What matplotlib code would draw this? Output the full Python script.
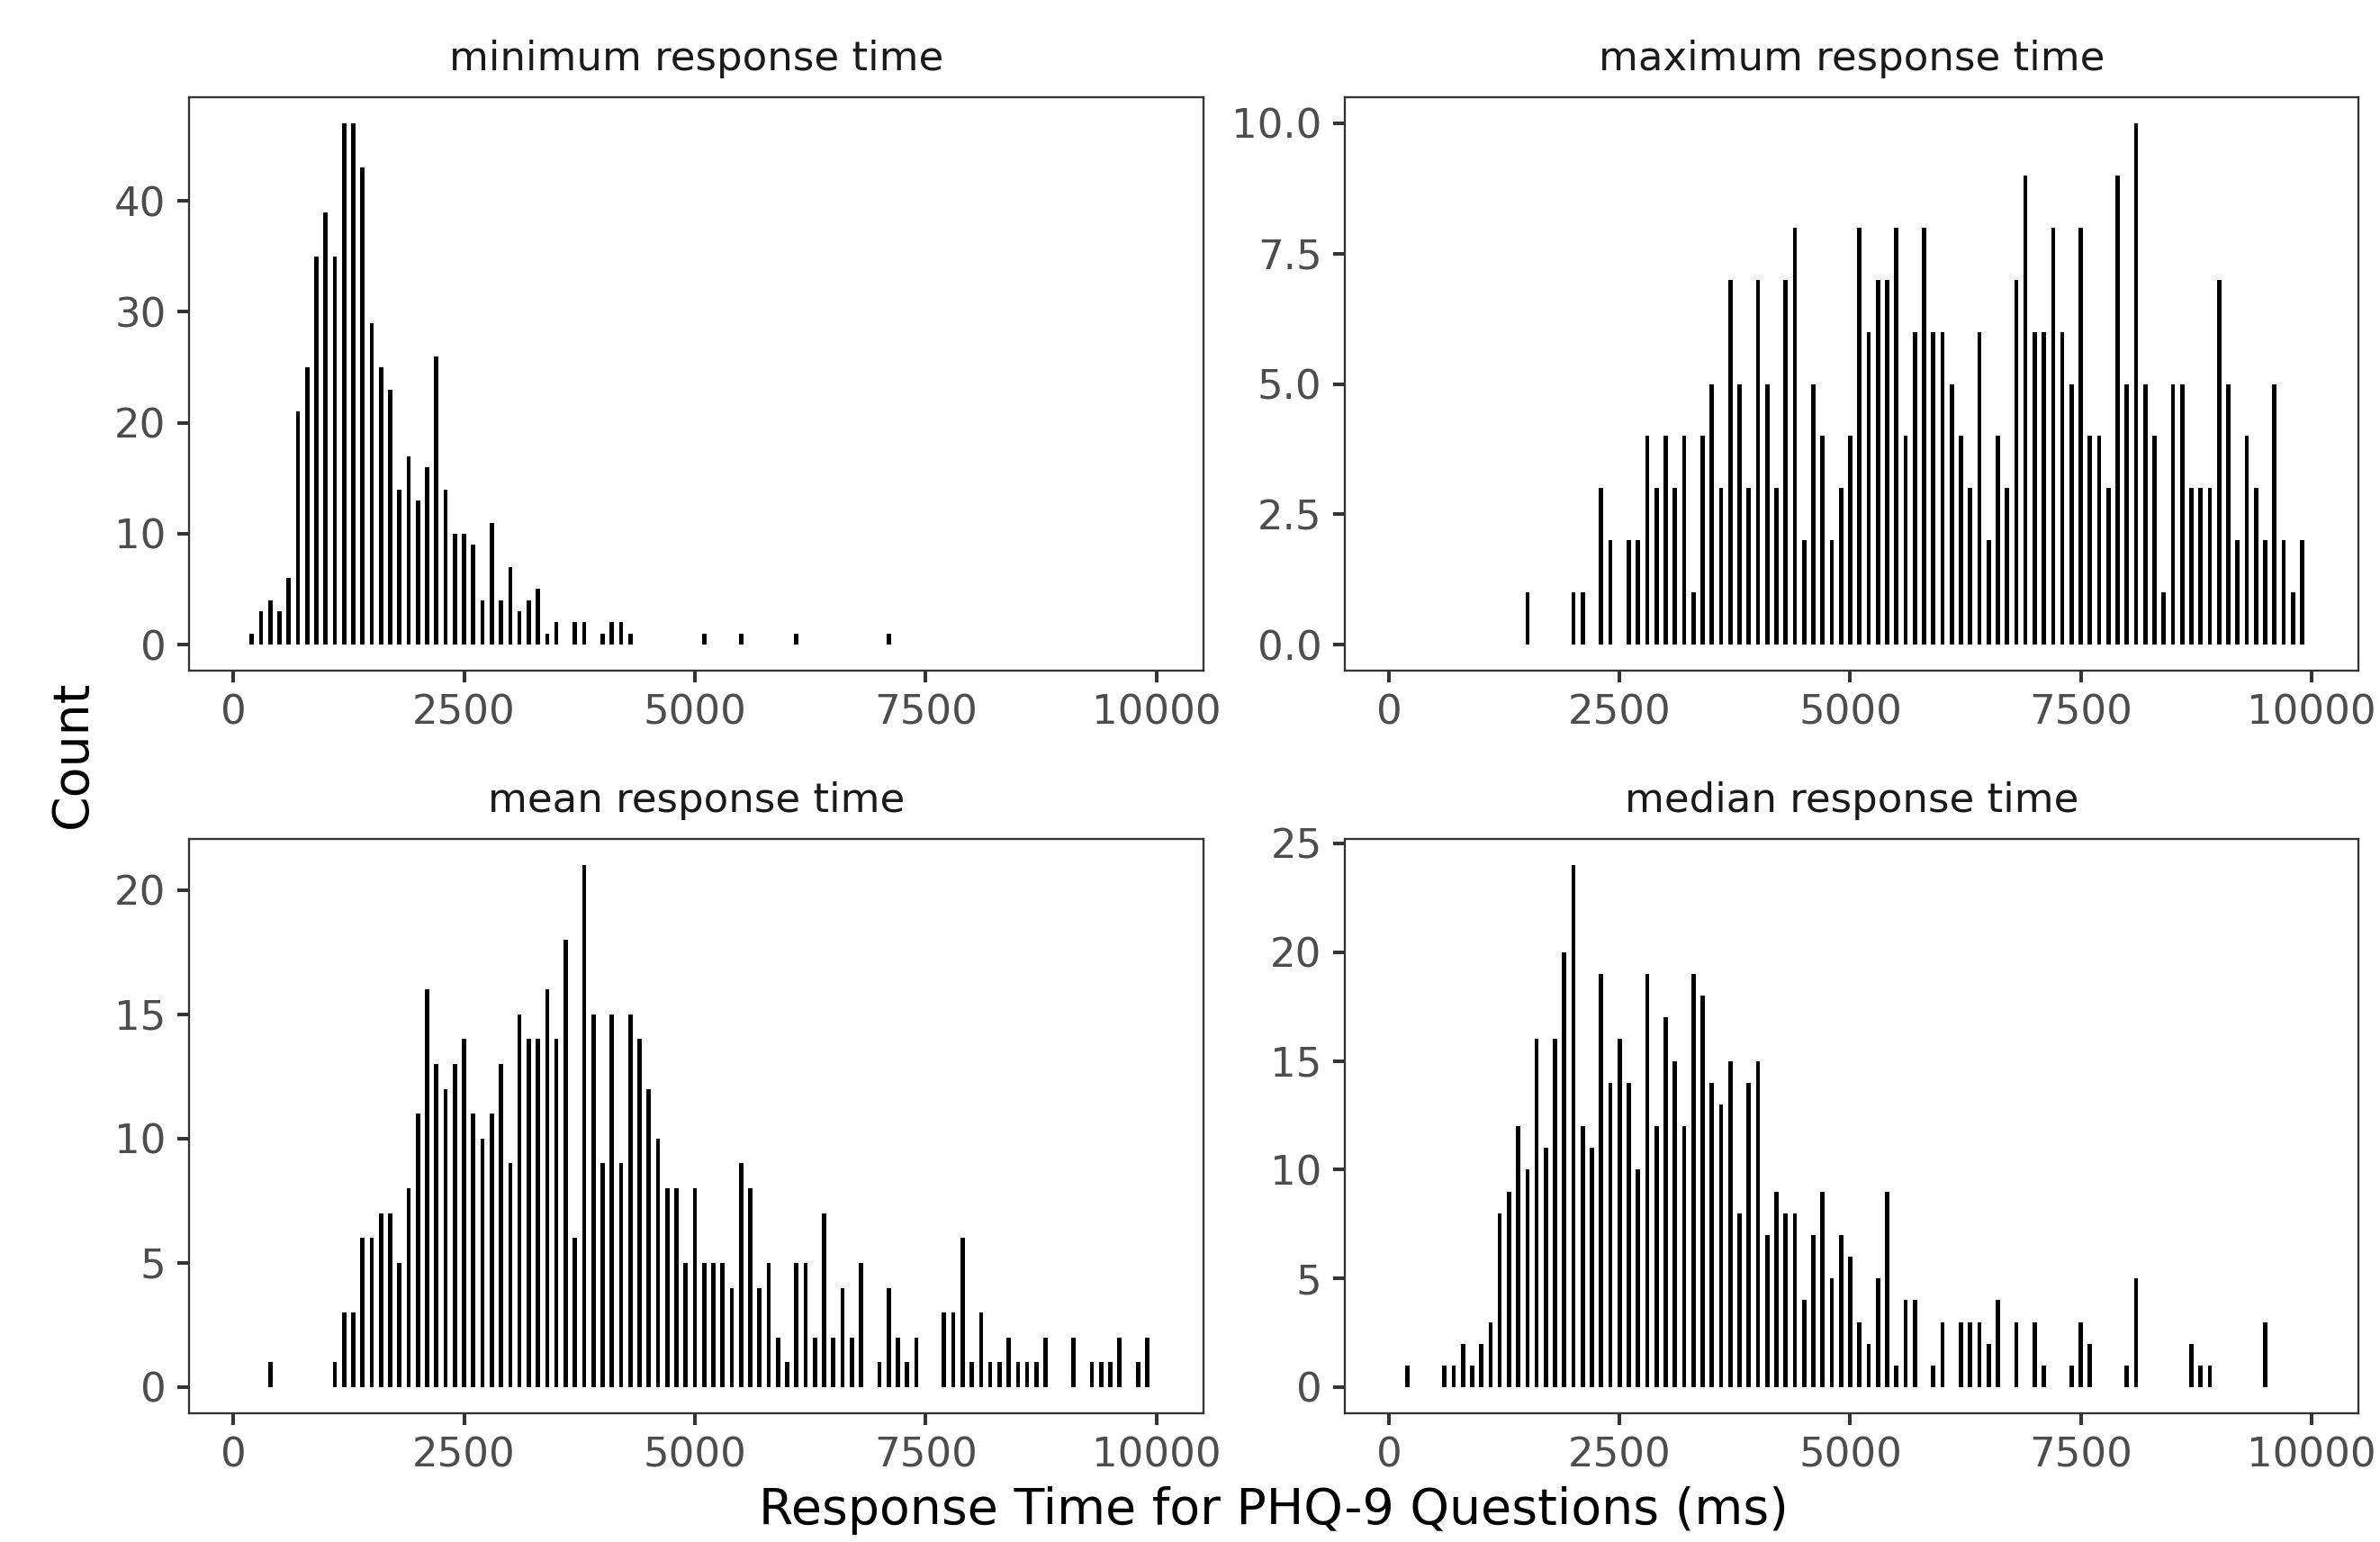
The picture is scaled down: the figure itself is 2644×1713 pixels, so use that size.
import matplotlib
matplotlib.use("Agg")
import matplotlib.pyplot as plt

# histogram counts per 100 ms bin (bin centre in ms)
min_x = [200, 300, 400, 500, 600, 700, 800, 900, 1000, 1100, 1200, 1300, 1400, 1500, 1600, 1700,
         1800, 1900, 2000, 2100, 2200, 2300, 2400, 2500, 2600, 2700, 2800, 2900, 3000, 3100, 3200,
         3300, 3400, 3500, 3700, 3800, 4000, 4100, 4200, 4300, 5100, 5500, 6100, 7100]
min_n = [1, 3, 4, 3, 6, 21, 25, 35, 39, 35, 47, 47, 43, 29, 25, 23,
         14, 17, 13, 16, 26, 14, 10, 10, 9, 4, 11, 4, 7, 3, 4,
         5, 1, 2, 2, 2, 1, 2, 2, 1, 1, 1, 1, 1]

max_x = [1500, 2000, 2100, 2300, 2400, 2600, 2700, 2800, 2900, 3000, 3100, 3200, 3300, 3400, 3500,
         3600, 3700, 3800, 3900, 4000, 4100, 4200, 4300, 4400, 4500, 4600, 4700, 4800, 4900, 5000,
         5100, 5200, 5300, 5400, 5500, 5600, 5700, 5800, 5900, 6000, 6100, 6200, 6300, 6400, 6500,
         6600, 6700, 6800, 6900, 7000, 7100, 7200, 7300, 7400, 7500, 7600, 7700, 7800, 7900, 8000,
         8100, 8200, 8300, 8400, 8500, 8600, 8700, 8800, 8900, 9000, 9100, 9200, 9300, 9400, 9500,
         9600, 9700, 9800, 9900]
max_n = [1, 1, 1, 3, 2, 2, 2, 4, 3, 4, 3, 4, 1, 4, 5,
         3, 7, 5, 3, 7, 5, 3, 7, 8, 2, 5, 4, 2, 3, 4,
         8, 6, 7, 7, 8, 4, 6, 8, 6, 6, 5, 4, 3, 6, 2,
         4, 3, 7, 9, 6, 6, 8, 6, 5, 8, 4, 4, 3, 9, 5,
         10, 5, 4, 1, 5, 5, 3, 3, 3, 7, 5, 2, 4, 3, 2,
         5, 2, 1, 2]

mean_x = [400, 1100, 1200, 1300, 1400, 1500, 1600, 1700, 1800, 1900, 2000, 2100, 2200, 2300, 2400,
          2500, 2600, 2700, 2800, 2900, 3000, 3100, 3200, 3300, 3400, 3500, 3600, 3700, 3800, 3900,
          4000, 4100, 4200, 4300, 4400, 4500, 4600, 4700, 4800, 4900, 5000, 5100, 5200, 5300, 5400,
          5500, 5600, 5700, 5800, 5900, 6000, 6100, 6200, 6300, 6400, 6500, 6600, 6700, 6800, 7000,
          7100, 7200, 7300, 7400, 7700, 7800, 7900, 8000, 8100, 8200, 8300, 8400, 8500, 8600, 8700,
          8800, 9100, 9300, 9400, 9500, 9600, 9800, 9900]
mean_n = [1, 1, 3, 3, 6, 6, 7, 7, 5, 8, 11, 16, 13, 12, 13,
          14, 11, 10, 11, 13, 9, 15, 14, 14, 16, 14, 18, 6, 21, 15,
          9, 15, 9, 15, 14, 12, 10, 8, 8, 5, 8, 5, 5, 5, 4,
          9, 8, 4, 5, 2, 1, 5, 5, 2, 7, 2, 4, 2, 5, 1,
          4, 2, 1, 2, 3, 3, 6, 1, 3, 1, 1, 2, 1, 1, 1,
          2, 2, 1, 1, 1, 2, 1, 2]

median_x = [200, 600, 700, 800, 900, 1000, 1100, 1200, 1300, 1400, 1500, 1600, 1700, 1800, 1900,
            2000, 2100, 2200, 2300, 2400, 2500, 2600, 2700, 2800, 2900, 3000, 3100, 3200, 3300, 3400,
            3500, 3600, 3700, 3800, 3900, 4000, 4100, 4200, 4300, 4400, 4500, 4600, 4700, 4800, 4900,
            5000, 5100, 5200, 5300, 5400, 5500, 5600, 5700, 5900, 6000, 6200, 6300, 6400, 6500, 6600,
            6800, 7000, 7100, 7400, 7500, 7600, 8000, 8100, 8700, 8800, 8900, 9500]
median_n = [1, 1, 1, 2, 1, 2, 3, 8, 9, 12, 10, 16, 11, 16, 20,
            24, 12, 11, 19, 14, 16, 14, 10, 19, 12, 17, 15, 12, 19, 18,
            14, 13, 15, 8, 14, 15, 7, 9, 8, 8, 4, 7, 9, 5, 7,
            6, 3, 2, 5, 9, 1, 4, 4, 1, 3, 3, 3, 3, 2, 4,
            3, 3, 1, 1, 3, 2, 1, 5, 2, 1, 1, 3]

titles = ["minimum response time", "maximum response time", "mean response time", "median response time"]
yticks = [[0, 10, 20, 30, 40], [0, 2.5, 5, 7.5, 10], [0, 5, 10, 15, 20], [0, 5, 10, 15, 20, 25]]
ytick_labels = [["0", "10", "20", "30", "40"], ["0.0", "2.5", "5.0", "7.5", "10.0"],
                ["0", "5", "10", "15", "20"], ["0", "5", "10", "15", "20", "25"]]
xticks = [0, 2500, 5000, 7500, 10000]

plt.rcParams['font.family'] = 'DejaVu Sans'
fig = plt.figure(figsize=(2644 / 300, 1713 / 300), dpi=300)

W, H = 2644, 1713
rects = [(210, 108, 1337, 745), (1494, 108, 2620, 745),
         (210, 932, 1337, 1570), (1494, 932, 2620, 1570)]
data = [(min_x, min_n), (max_x, max_n), (mean_x, mean_n), (median_x, median_n)]

for i, (l, t, r, b) in enumerate(rects):
    ax = fig.add_axes([l / W, 1 - b / H, (r - l) / W, (b - t) / H])
    xs, ns = data[i]
    ax.bar(xs, ns, width=46, color='black', linewidth=0)
    top = max(ns)
    ax.set_ylim(-0.05 * top, 1.05 * top)
    ax.set_xlim(-480, 10510)
    ax.set_xticks(xticks)
    ax.set_xticklabels([str(v) for v in xticks])
    ax.set_yticks(yticks[i])
    ax.set_yticklabels(ytick_labels[i])
    ax.tick_params(direction='out', length=3.1, width=0.95, color='#333333',
                   labelsize=10.8, labelcolor='#4D4D4D', pad=3.0)
    for s in ax.spines.values():
        s.set_color('#333333')
        s.set_linewidth(0.55)
    ax.set_title(titles[i], fontsize=10.8, color='#1A1A1A', pad=7.3)

fig.text(81 / W, 1 - 838 / H, "Count", rotation=90, fontsize=13.3, ha='center', va='center')
fig.text(1415 / W, 1 - 1678 / H, "Response Time for PHQ-9 Questions (ms)", fontsize=13.3,
         ha='center', va='center')

plt.savefig("out.png", dpi=300)
